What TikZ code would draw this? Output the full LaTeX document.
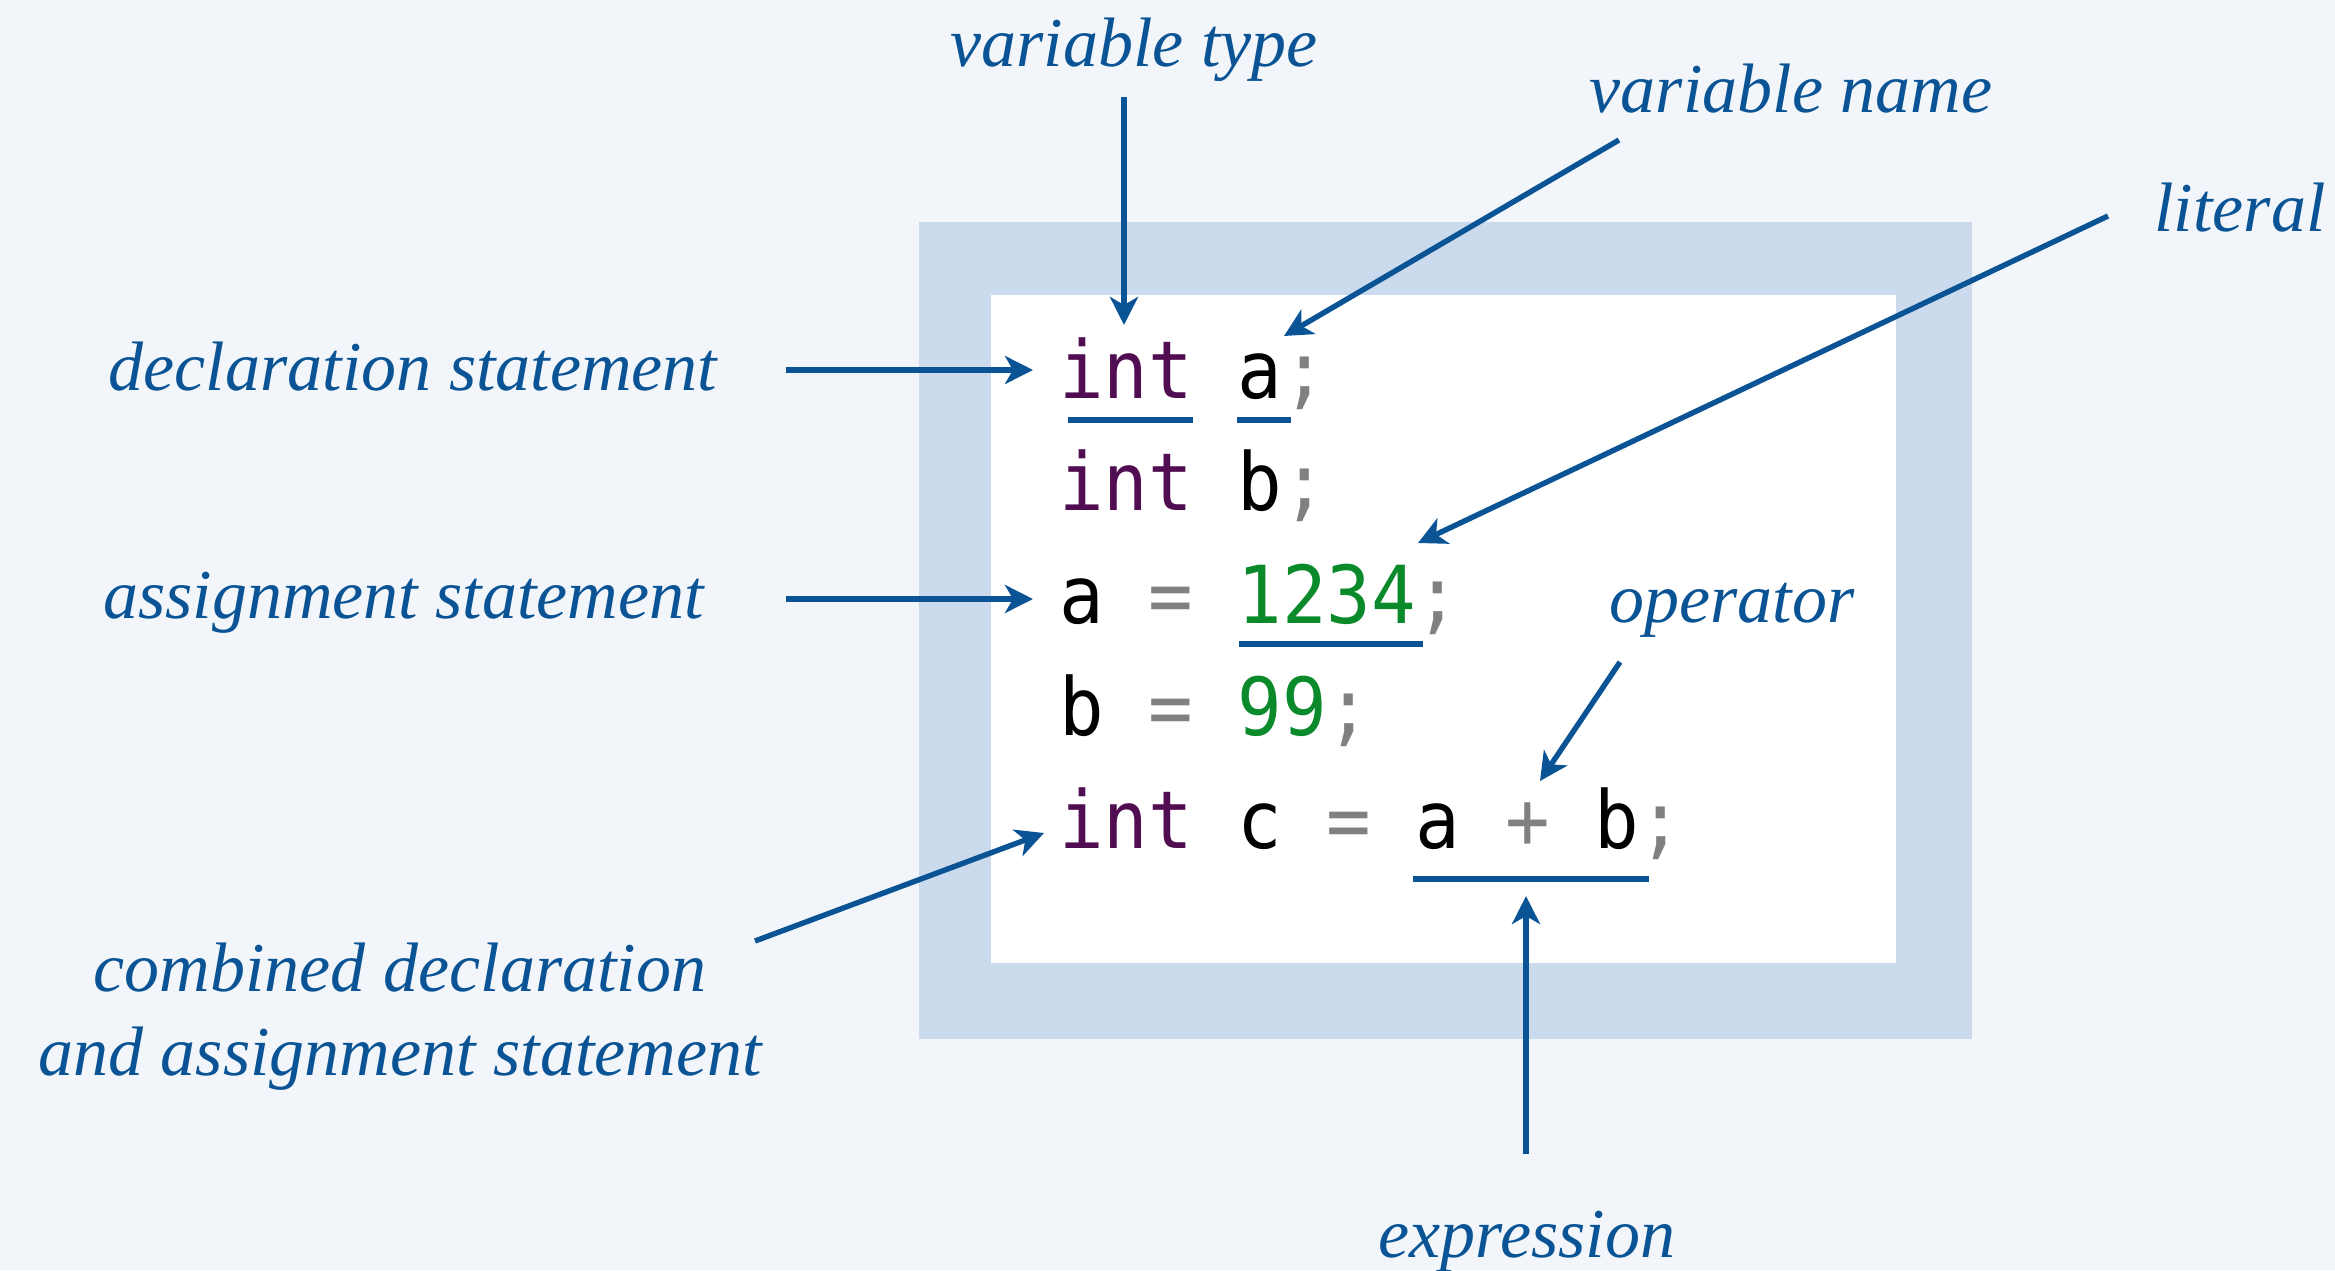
\documentclass[tikz,border=0pt]{standalone}
\usepackage{fontspec}
\setmainfont{Liberation Serif}
\newfontfamily\codefont[FakeStretch=0.926]{DejaVu Sans Mono}
\usetikzlibrary{arrows.meta}
\definecolor{bg}{HTML}{F2F6FA}
\definecolor{framecol}{HTML}{CBDAEC}
\definecolor{ann}{HTML}{0A5496}
\definecolor{kw}{HTML}{510D51}
\definecolor{lit}{HTML}{0A8A2A}
\definecolor{opc}{HTML}{808080}
\begin{document}
\begin{tikzpicture}[x=0.5pt,y=-0.5pt,
 lbl/.style={font=\fontsize{35}{40}\selectfont\itshape, text=ann, inner sep=0pt, anchor=base},
 code/.style={font=\codefont\fontsize{40}{44}\selectfont, inner sep=0pt, anchor=base west},
 ptr/.style={draw=ann, line width=2.7pt, -{Stealth[length=14pt,width=14pt,inset=4pt]}},
 uline/.style={draw=ann, line width=2.7pt}]
\useasboundingbox (0,0) rectangle (2335,1270);
\fill[bg] (0,0) rectangle (2335,1270);
\fill[framecol] (919,222) rectangle (1972,1039);
\fill[white] (991,295) rectangle (1896,963);
% code
\node[code] (l1) at (1058.6,398) {\textcolor{kw}{int} a\textcolor{opc}{;}};
\node[code] (l2) at (1058.6,510.5) {\textcolor{kw}{int} b\textcolor{opc}{;}};
\node[code] (l3) at (1058.6,623) {a \textcolor{opc}{=} \textcolor{lit}{1234}\textcolor{opc}{;}};
\node[code] (l4) at (1058.6,735.5) {b \textcolor{opc}{=} \textcolor{lit}{99}\textcolor{opc}{;}};
\node[code] (l5) at (1058.6,848) {\textcolor{kw}{int} c \textcolor{opc}{=} a \textcolor{opc}{+} b\textcolor{opc}{;}};
% underlines
\draw[uline] (1068,420) -- (1193,420);
\draw[uline] (1237,420) -- (1291,420);
\draw[uline] (1239,644) -- (1423,644);
\draw[uline] (1413,879) -- (1649,879);
% labels
\node[lbl] (vt) at (1134,66) {variable type};
\node[lbl] (vn) at (1791,112) {variable name};
\node[lbl] (li) at (2240,231) {literal};
\node[lbl] (opl) at (1732,622) {operator};
\node[lbl] (ex) at (1527,1257) {expression};
\node[lbl] (ds) at (413,390) {declaration statement};
\node[lbl] (as) at (403.5,618) {assignment statement};
\node[lbl] (cd1) at (400,991) {combined declaration};
\node[lbl] (cd2) at (400,1075) {and assignment statement};
% arrow endpoints
\coordinate (vtS) at (1124,97);   \coordinate (vtE) at (1124,325);
\coordinate (vnS) at (1619,140);  \coordinate (vnE) at (1284,336);
\coordinate (liS) at (2108,216);  \coordinate (liE) at (1418,543);
\coordinate (opS) at (1620,662);  \coordinate (opE) at (1540,781);
\coordinate (exS) at (1526,1154); \coordinate (exE) at (1526,896);
\coordinate (dsS) at (786,370);   \coordinate (dsE) at (1033,370);
\coordinate (asS) at (786,599);   \coordinate (asE) at (1033,599);
\coordinate (cdS) at (755,941);   \coordinate (cdE) at (1044,833);
\draw[ptr] (vtS) -- (vtE);
\draw[ptr] (vnS) -- (vnE);
\draw[ptr] (liS) -- (liE);
\draw[ptr] (opS) -- (opE);
\draw[ptr] (exS) -- (exE);
\draw[ptr] (dsS) -- (dsE);
\draw[ptr] (asS) -- (asE);
\draw[ptr] (cdS) -- (cdE);
\end{tikzpicture}
\end{document}
